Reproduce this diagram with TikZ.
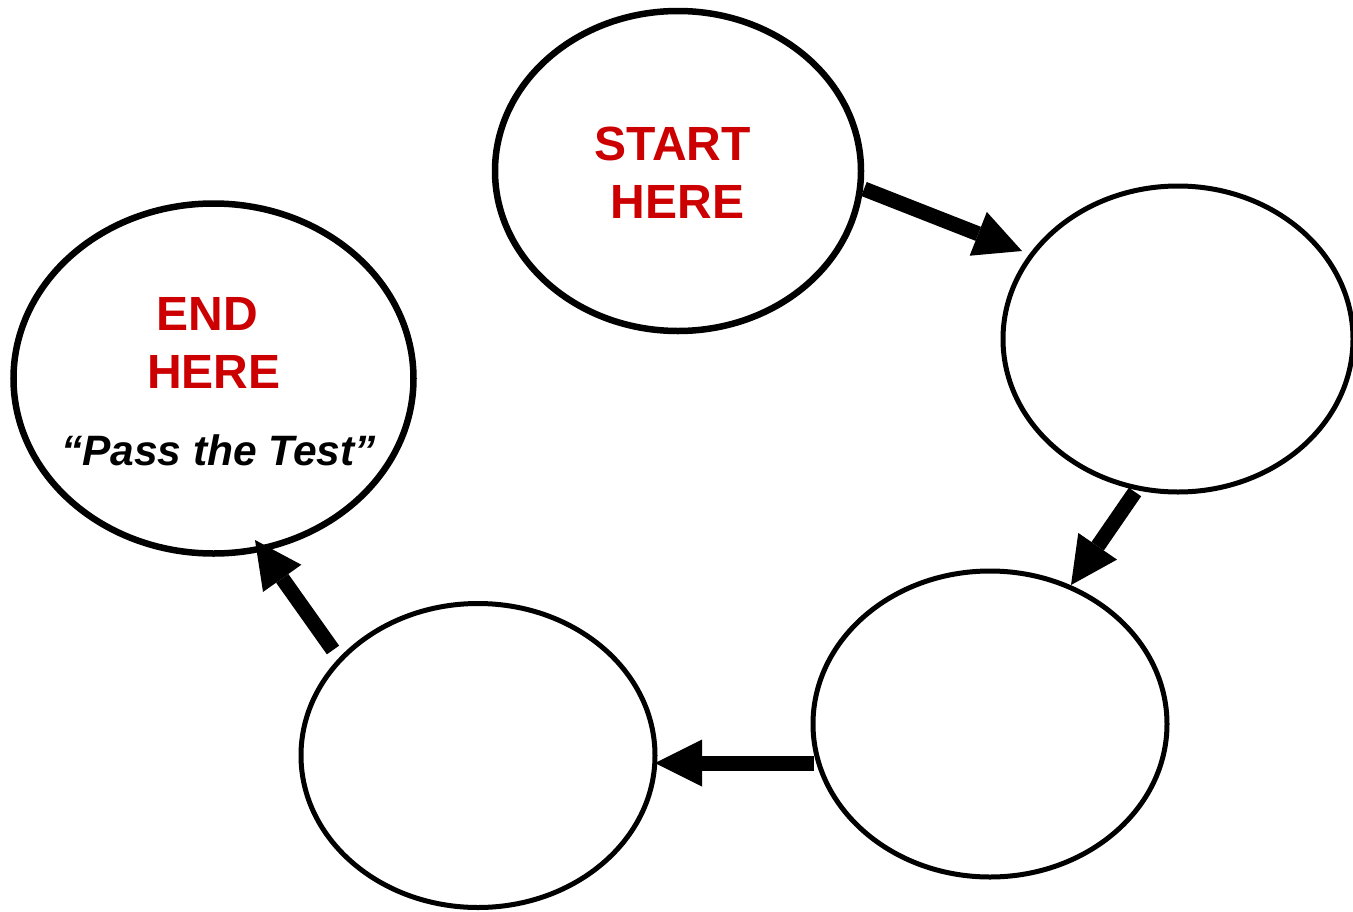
\documentclass[tikz,border=0pt]{standalone}
\usepackage{fontspec}
\setmainfont{Liberation Sans}
\usetikzlibrary{shapes.geometric,arrows.meta}
\definecolor{tred}{RGB}{204,0,0}
\begin{document}
\begin{tikzpicture}[x=1pt,y=-1pt,
  oval/.style={draw=black,line width=5pt,ellipse,inner sep=0pt},
  thickoval/.style={oval,line width=6.5pt},
  flow/.style={line width=15pt,-{Triangle[length=47pt,width=47pt,line width=0pt]}},
  redlabel/.style={text=tred,font=\bfseries\fontsize{48}{48}\selectfont,anchor=base,inner sep=0pt},
  quotelabel/.style={font=\bfseries\itshape\fontsize{42.5}{42.5}\selectfont,anchor=base,inner sep=0pt}]
\useasboundingbox (0,0) rectangle (1353,911);
\clip (0,0) rectangle (1353,911);
\fill[white] (0,0) rectangle (1353,911);

% ovals
\node[thickoval,minimum width=366pt,minimum height=320pt] (start) at (678,171) {};
\node[oval,minimum width=350pt,minimum height=306pt] (right) at (1178,339) {};
\node[oval,minimum width=354pt,minimum height=306pt] (lowright) at (990,724) {};
\node[oval,minimum width=354pt,minimum height=304pt] (lowleft) at (478,755.5) {};
\node[thickoval,minimum width=400pt,minimum height=350pt] (end) at (213.5,378.5) {};

% labels
\node[redlabel] (t1) at (672.5,160) {START};
\node[redlabel] (t2) at (677.5,218) {HERE};
\node[redlabel] (t3) at (207.5,330) {END};
\node[redlabel] (t4) at (214,388) {HERE};
\node[quotelabel] (t5) at (218.5,465) {“Pass the Test”};

% arrow end points
\coordinate (a1s) at (864,189);
\coordinate (a1e) at (1022,251);
\coordinate (a2s) at (1135,492);
\coordinate (a2e) at (1071,585);
\coordinate (a3s) at (814,763);
\coordinate (a3e) at (655,763);
\coordinate (a4s) at (333,650);
\coordinate (a4e) at (255,540);

\draw[flow] (a1s) -- (a1e);
\draw[flow] (a2s) -- (a2e);
\draw[flow] (a3s) -- (a3e);
\draw[flow] (a4s) -- (a4e);
\end{tikzpicture}
\end{document}
